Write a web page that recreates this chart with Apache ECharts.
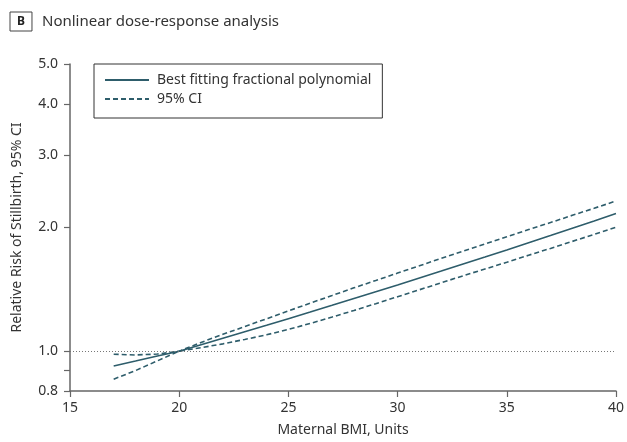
<!DOCTYPE html>
<html>
<head>
<meta charset="utf-8">
<script src="https://cdn.jsdelivr.net/npm/echarts@6/dist/echarts.min.js"></script>
<style>
html,body{margin:0;padding:0;background:#fff;}
#main{width:627px;height:442px;}
</style>
</head>
<body>
<div id="main"></div>
<script>
// BMI values (x) and relative risk curves
var bmi = [17,18,19,20,21,22,23,24,25,26,27,28,29,30,31,32,33,34,35,36,37,38,39,40];
var bestFit = [0.920,0.946,0.973,1.000,1.037,1.075,1.115,1.156,1.200,1.245,1.293,1.343,1.395,1.449,1.507,1.567,1.630,1.695,1.764,1.837,1.912,1.992,2.075,2.163];
var ciUpper = [0.983,0.979,0.984,1.000,1.050,1.099,1.148,1.199,1.253,1.309,1.366,1.426,1.486,1.549,1.614,1.683,1.752,1.824,1.899,1.977,2.056,2.141,2.228,2.320];
var ciLower = [0.855,0.897,0.947,1.000,1.020,1.042,1.068,1.096,1.130,1.168,1.211,1.256,1.305,1.357,1.411,1.467,1.526,1.585,1.646,1.712,1.779,1.850,1.925,2.002];
var yTicks = [0.8,0.9,1,2,3,4,5];
var yLabels = [0.8,1,2,3,4,5];

function pairs(xs, ys){
	var out = [];
	for (var i = 0; i < xs.length; i++) {
		out.push([xs[i], ys[i]]);
	}
	return out;
}

var lineColor = '#2e5d6b';
var textColor = '#333';
var axisColor = '#666';
var font = 'Noto Sans';

var chart = echarts.init(document.getElementById('main'));
var option = {
	animation: false,
	textStyle: { fontFamily: font },
	title: {
		left: 5,
		top: 7,
		text: '{b|B}{t|Nonlinear dose-response analysis}',
		textStyle: {
			fontWeight: 'normal',
			rich: {
				b: { fontFamily: font, fontWeight: 'bold', fontSize: 12, color: '#222', borderColor: '#444', borderWidth: 1, padding: [4, 7, 3, 7] },
				t: { fontFamily: font, fontWeight: 'normal', fontSize: 15, color: textColor, padding: [0, 0, 0, 10] }
			}
		}
	},
	legend: {
		show: true,
		orient: 'vertical',
		left: 94,
		top: 64,
		borderColor: '#333',
		borderWidth: 1,
		padding: [9, 11, 12, 10],
		itemWidth: 44,
		itemHeight: 14,
		itemGap: 5,
		itemStyle: { color: 'rgba(0,0,0,0)', borderColor: 'rgba(0,0,0,0)', borderWidth: 0 },
		textStyle: { fontFamily: font, fontSize: 14, color: textColor, padding: [0, 0, 0, 3] },
		data: ['Best fitting fractional polynomial', '95% CI']
	},
	grid: { left: 70, right: 10, top: 64, bottom: 51 },
	xAxis: {
		type: 'value',
		min: 15,
		max: 40,
		interval: 5,
		name: 'Maternal BMI, Units',
		nameLocation: 'middle',
		nameGap: 32,
		nameTextStyle: { fontSize: 14, color: textColor },
		axisLine: { lineStyle: { color: axisColor, width: 1.5 } },
		axisTick: { inside: false, length: 6, lineStyle: { color: axisColor, width: 1.2 } },
		axisLabel: { fontSize: 14, color: textColor, margin: 10 },
		splitLine: { show: false }
	},
	yAxis: {
		type: 'log',
		logBase: 10,
		min: 0.8,
		max: 5,
		name: 'Relative Risk of Stillbirth, 95% CI',
		nameLocation: 'middle',
		nameGap: 46,
		nameTextStyle: { fontSize: 14, color: textColor },
		axisLine: { show: true, lineStyle: { color: axisColor, width: 1.5 } },
		axisTick: { show: true, length: 6, customValues: yTicks, lineStyle: { color: axisColor, width: 1.2 } },
		axisLabel: {
			fontSize: 14,
			color: textColor,
			margin: 12,
			customValues: yLabels,
			formatter: function(v){ return Number(v).toFixed(1); }
		},
		splitLine: { show: false }
	},
	series: [
		{
			name: 'Best fitting fractional polynomial',
			type: 'line',
			data: pairs(bmi, bestFit),
			showSymbol: false,
			symbol: 'none',
			lineStyle: { color: lineColor, width: 1.6 },
			itemStyle: { color: lineColor },
			z: 3,
			markLine: {
				silent: true,
				symbol: 'none',
				label: { show: false },
				lineStyle: { color: '#777', type: [1, 2], width: 1 },
				data: [{ yAxis: 1 }]
			}
		},
		{
			name: '95% CI',
			type: 'line',
			data: pairs(bmi, ciUpper),
			showSymbol: false,
			symbol: 'none',
			lineStyle: { color: lineColor, width: 1.6, type: [5, 3] },
			itemStyle: { color: lineColor }
		},
		{
			name: '95% CI',
			type: 'line',
			data: pairs(bmi, ciLower),
			showSymbol: false,
			symbol: 'none',
			lineStyle: { color: lineColor, width: 1.6, type: [5, 3] },
			itemStyle: { color: lineColor }
		}
	]
};
chart.setOption(option);
</script>
</body>
</html>
